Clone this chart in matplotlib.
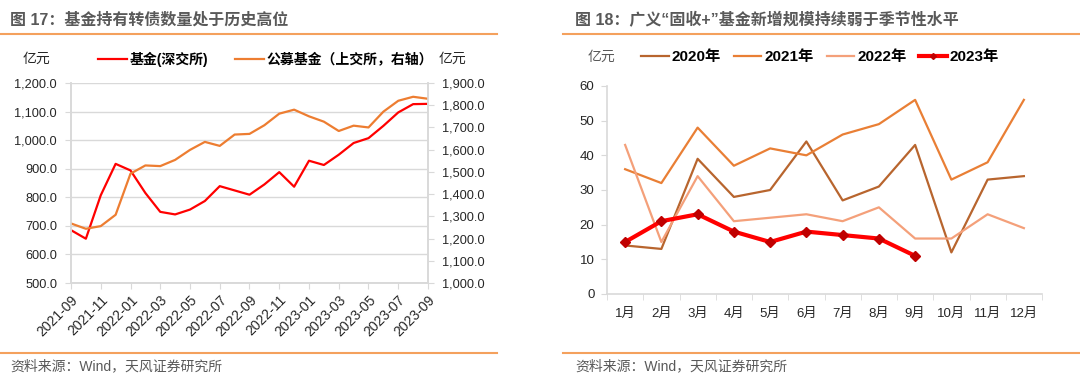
import matplotlib
matplotlib.use("Agg")
import matplotlib.pyplot as plt
from matplotlib.lines import Line2D
import numpy as np

plt.rcParams['font.family'] = ['Liberation Sans', 'Noto Sans CJK SC']
plt.rcParams['axes.unicode_minus'] = False

# ---- data: left chart (monthly, 2021-09 .. 2023-09)
months = ['2021-09', '2021-10', '2021-11', '2021-12', '2022-01', '2022-02', '2022-03',
          '2022-04', '2022-05', '2022-06', '2022-07', '2022-08', '2022-09', '2022-10',
          '2022-11', '2022-12', '2023-01', '2023-02', '2023-03', '2023-04', '2023-05',
          '2023-06', '2023-07', '2023-08', '2023-09']
fund_sz = [685, 655, 807, 917, 894, 815, 749, 740, 757, 787, 839, 824, 809, 845,
           888, 837, 928, 913, 949, 990, 1007, 1050, 1097, 1126, 1127]
fund_sh = [1268, 1244, 1256, 1307, 1492, 1529, 1526, 1554, 1599, 1635, 1617, 1668, 1671,
           1710, 1762, 1780, 1750, 1726, 1684, 1708, 1700, 1771, 1820, 1838, 1829]

# ---- data: right chart (new issuance by month)
cal_months = ['1月', '2月', '3月', '4月', '5月', '6月', '7月', '8月', '9月', '10月', '11月', '12月']
y2020 = [14, 13, 39, 28, 30, 44, 27, 31, 43, 12, 33, 34]
y2021 = [36, 32, 48, 37, 42, 40, 46, 49, 56, 33, 38, 56]
y2022 = [43, 15, 34, 21, 22, 23, 21, 25, 16, 16, 23, 19]
y2023 = [15, 21, 23, 18, 15, 18, 17, 16, 11]

GREY_TXT = '#595959'
AX_GREY = '#D9D9D9'
RULE = '#F4A15D'

fig = plt.figure(figsize=(10.8, 3.88), dpi=100)

# titles, rules, footers
fig.text(10 / 1080, 1 - 20 / 388, '图 17：基金持有转债数量处于历史高位', fontsize=11.5,
         fontweight='bold', color=GREY_TXT, va='center', ha='left')
fig.text(575 / 1080, 1 - 20 / 388, '图 18：广义“固收+”基金新增规模持续弱于季节性水平', fontsize=11.5,
         fontweight='bold', color=GREY_TXT, va='center', ha='left')
for x0, x1 in [(0, 497), (563, 1080)]:
    for yy in (34, 353):
        fig.add_artist(Line2D([x0 / 1080, x1 / 1080], [1 - yy / 388] * 2, color=RULE, lw=1.5))
fig.text(10 / 1080, 1 - 366 / 388, '资料来源：Wind，天风证券研究所', fontsize=10,
         color=GREY_TXT, va='center', ha='left')
fig.text(575 / 1080, 1 - 366 / 388, '资料来源：Wind，天风证券研究所', fontsize=10,
         color=GREY_TXT, va='center', ha='left')

# ---------------- left chart
ax = fig.add_axes([71 / 1080, 1 - 283 / 388, 357 / 1080, 200 / 388])
x = np.arange(len(months))
ax.plot(x, fund_sz, color='#FF0000', lw=1.6, label='基金(深交所)')
ax.set_ylim(500, 1200)
ax.set_yticks(np.arange(500, 1201, 100))
ax.set_yticklabels([f'{v:,.1f}' for v in range(500, 1201, 100)])
ax.set_xlim(0, len(months) - 1)
ax.set_xticks(x[::2])
ax.set_xticklabels(months[::2], rotation=45, ha='right', rotation_mode='anchor')
ax.grid(axis='y', color=AX_GREY, lw=1)
ax.set_axisbelow(True)
ax2 = ax.twinx()
ax2.plot(x, fund_sh, color='#ED7D31', lw=1.6, label='公募基金（上交所，右轴）')
ax2.set_ylim(1000, 1900)
ax2.set_yticks(np.arange(1000, 1901, 100))
ax2.set_yticklabels([f'{v:,.1f}' for v in range(1000, 1901, 100)])
for a in (ax, ax2):
    a.spines['top'].set_visible(False)
    for s in ('left', 'right', 'bottom'):
        a.spines[s].set_color(AX_GREY)
        a.spines[s].set_linewidth(1.2)
    a.tick_params(colors=AX_GREY, labelcolor='#262626', labelsize=9.2, length=4)
ax.tick_params(axis='y', pad=6)
ax2.tick_params(axis='y', pad=6)
ax.tick_params(axis='x', labelsize=10, pad=3)
h1, l1 = ax.get_legend_handles_labels()
h2, l2 = ax2.get_legend_handles_labels()
ax2.legend(h1 + h2, l1 + l2, loc='center', bbox_to_anchor=(0.545, 1.12), ncol=2, frameon=False,
           prop={'weight': 'bold', 'size': 10}, handlelength=2.1, columnspacing=1.9, handletextpad=0.2)
fig.text(36 / 1080, 1 - 59 / 388, '亿元', fontsize=10, color='#262626', ha='center', va='center')
fig.text(452 / 1080, 1 - 59 / 388, '亿元', fontsize=10, color='#262626', ha='center', va='center')

# ---------------- right chart
bx = fig.add_axes([607 / 1080, 1 - 294 / 388, 435 / 1080, 208 / 388])
cx = np.arange(1, len(cal_months) + 1)
bx.plot(cx, y2020, color='#B8652E', lw=1.6, label='2020年')
bx.plot(cx, y2021, color='#E97F35', lw=1.6, label='2021年')
bx.plot(cx, y2022, color='#F4A07A', lw=1.6, label='2022年')
bx.plot(cx[:len(y2023)], y2023, color='#FF0000', lw=3, marker='D', markersize=5,
        markerfacecolor='#C00000', markeredgecolor='#C00000', label='2023年')
bx.set_xlim(0.5, 12.5)
bx.set_ylim(0, 60)
bx.set_yticks(np.arange(0, 61, 10))
bx.set_xticks(cx)
bx.set_xticklabels(cal_months)
bx.set_xticks(np.arange(0.5, 12.6, 1), minor=True)
bx.tick_params(axis='x', which='major', length=0, pad=10)
bx.tick_params(axis='x', which='minor', length=4, color=AX_GREY)
bx.tick_params(axis='y', length=4, color=AX_GREY, pad=5)
bx.tick_params(labelsize=9.5, labelcolor='#262626')
for s in ('top', 'right'):
    bx.spines[s].set_visible(False)
for s in ('left', 'bottom'):
    bx.spines[s].set_color(AX_GREY)
    bx.spines[s].set_linewidth(1.2)
leg = bx.legend(loc='center', bbox_to_anchor=(0.49, 1.14), ncol=4, frameon=False,
                prop={'weight': 'bold', 'size': 11}, handlelength=1.8, columnspacing=0.85,
                handletextpad=0.2)
leg.legend_handles[3].set_markersize(3)
fig.text(601 / 1080, 1 - 57 / 388, '亿元', fontsize=10, color=GREY_TXT, ha='center', va='center')

fig.savefig('out.png', dpi=100)
